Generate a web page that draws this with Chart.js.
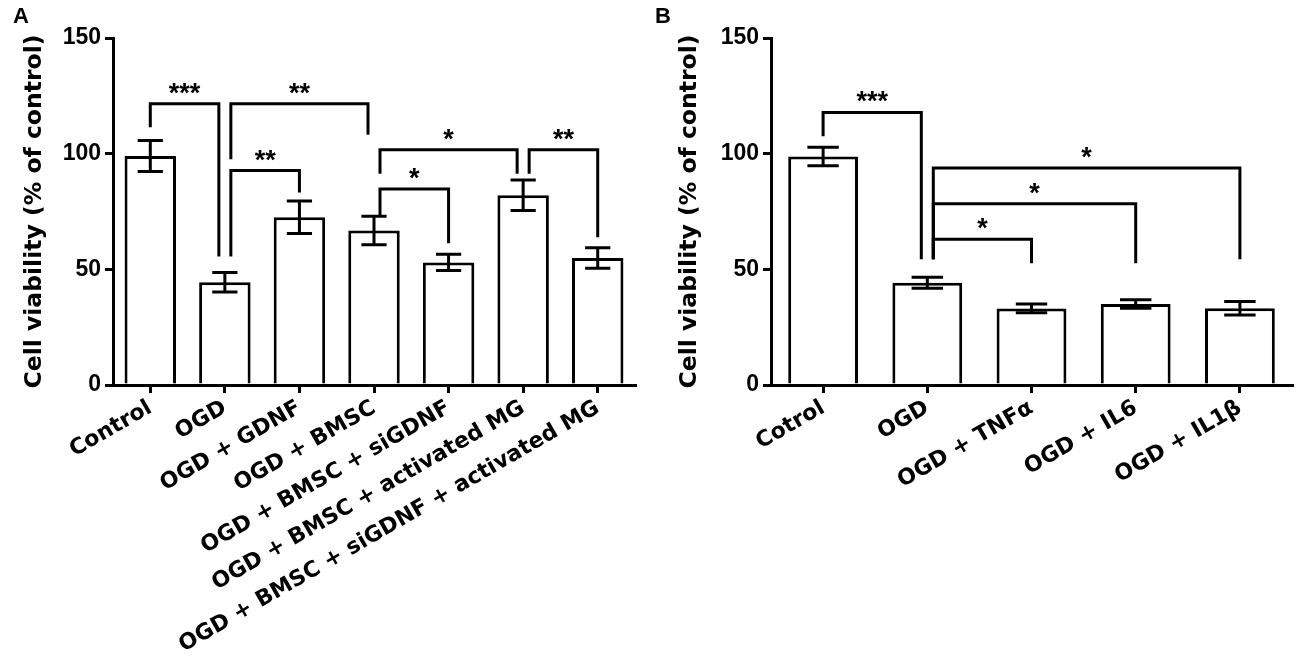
<!DOCTYPE html>
<html><head><meta charset="utf-8">
<script src="https://cdn.jsdelivr.net/npm/chart.js@4.4.1/dist/chart.umd.min.js"></script>
<style>
html,body{margin:0;padding:0;background:#fff;}
#wrap{position:relative;width:1300px;height:667px;overflow:hidden;background:#fff;}
canvas{position:absolute;top:0;}
#cA{left:0}
#cB{left:650px}
.lbl{position:absolute;font:bold 22px "Liberation Sans",Arial,sans-serif;color:#000;line-height:1;}
</style></head><body>
<div id="wrap">
<canvas id="cA" width="650" height="667"></canvas>
<canvas id="cB" width="650" height="667"></canvas>
<div class="lbl" style="left:13px;top:5px">A</div>
<div class="lbl" style="left:655px;top:5px">B</div>
</div>
<script>
// ---- Panel A data ----
const categoriesA = ['Control', 'OGD', 'OGD + GDNF', 'OGD + BMSC', 'OGD + BMSC + siGDNF',
  'OGD + BMSC + activated MG', 'OGD + BMSC + siGDNF + activated MG'];
const meansA = [99, 44.4, 72.5, 66.8, 53, 82, 54.9];
const errorsA = [6.7, 4.2, 7, 6.2, 3.5, 6.6, 4.4];
// [from, to, bracket top, left leg end, right leg end, label]
const bracketsA = [
  [0, 1, 121.6, 111.4, 55.5, '***'],
  [1, 3, 121.6, 97.6, 108.2, '**'],
  [1, 2, 92.7, 55.5, 83.2, '**'],
  [3, 5, 101.7, 91.3, 91.3, '*'],
  [3, 4, 84.7, 72.8, 61.3, '*'],
  [5, 6, 101.7, 91.3, 63.9, '**']
];
// ---- Panel B data ----
const categoriesB = ['Cotrol', 'OGD', 'OGD + TNF\u03b1', 'OGD + IL6', 'OGD + IL1\u03b2'];
const meansB = [98.8, 44.2, 33.1, 35, 33.2];
const errorsB = [4, 2.4, 1.9, 1.8, 2.9];
const bracketsB = [
  [0, 1, 117.8, 107.5, 54.4, '***'],
  [1, 2, 63.0, 54.4, 52.6, '*'],
  [1, 3, 78.3, 54.4, 52.6, '*'],
  [1, 4, 93.8, 54.4, 54.4, '*']
];
const yTicks = [0, 50, 100, 150];
const yTitle = 'Cell viability (% of control)';

const overlay = {
  id: 'overlay',
  afterDatasetsDraw(chart, args, opts) {
    const ctx = chart.ctx, x = chart.scales.x, y = chart.scales.y;
    const meta = chart.getDatasetMeta(0);
    ctx.save();
    ctx.strokeStyle = '#000'; ctx.fillStyle = '#000';
    ctx.lineWidth = 3; ctx.lineCap = 'butt'; ctx.lineJoin = 'miter';
    opts.means.forEach((m, i) => {
      const cx = x.getPixelForValue(i);
      const hw = meta.data[i].width * opts.capRatio / 2;
      const yt = y.getPixelForValue(m + opts.errs[i]);
      const yb = y.getPixelForValue(m - opts.errs[i]);
      ctx.beginPath();
      ctx.moveTo(cx, yt); ctx.lineTo(cx, yb);
      ctx.moveTo(cx - hw, yt); ctx.lineTo(cx + hw, yt);
      ctx.moveTo(cx - hw, yb); ctx.lineTo(cx + hw, yb);
      ctx.stroke();
    });
    ctx.font = 'bold 27px "Liberation Sans", Arial, sans-serif';
    ctx.textAlign = 'center'; ctx.textBaseline = 'alphabetic';
    const br = opts.brackets;
    br.forEach(b => {
      const [l, r, top, lb, rb, label] = b;
      const sL = br.some(o => o !== b && o[1] === l) ? opts.legShift : 0;
      const sR = br.some(o => o !== b && o[0] === r) ? -opts.legShift : 0;
      const xl = x.getPixelForValue(l) + sL, xr = x.getPixelForValue(r) + sR;
      const yt = y.getPixelForValue(top);
      ctx.beginPath();
      ctx.moveTo(xl, y.getPixelForValue(lb));
      ctx.lineTo(xl, yt); ctx.lineTo(xr, yt);
      ctx.lineTo(xr, y.getPixelForValue(rb));
      ctx.stroke();
      ctx.fillText(label, (xl + xr) / 2, yt - 2);
    });
    ctx.restore();
  }
};

function makeChart(id, labels, means, errs, brackets, cfg) {
  return new Chart(document.getElementById(id), {
    type: 'bar',
    data: { labels: labels, datasets: [{ data: means, backgroundColor: '#fff', borderColor: '#000',
      borderWidth: 3, categoryPercentage: 1, barPercentage: cfg.barPct }] },
    options: {
      responsive: false, animation: false, devicePixelRatio: 1,
      layout: { padding: { top: 38, right: cfg.padRight, bottom: 0, left: 0 } },
      plugins: { legend: { display: false }, tooltip: { enabled: false },
        overlay: { means: means, errs: errs, brackets: brackets, capRatio: cfg.capRatio, legShift: 6 } },
      scales: {
        x: {
          grid: { display: true, offset: false, drawOnChartArea: false, drawTicks: true, tickLength: 8, color: '#000', lineWidth: 3 },
          border: { display: true, color: '#000', width: 3 },
          ticks: { color: '#000', font: { family: 'DejaVu Sans', weight: 'bold', size: 22 },
            minRotation: 30, maxRotation: 30, autoSkip: false, padding: 2 },
          afterFit(s) { s.height = 282; }
        },
        y: {
          min: 0, max: 150,
          afterBuildTicks(s) { s.ticks = yTicks.map(v => ({ value: v })); },
          ticks: { color: '#000', font: { family: 'Liberation Sans', weight: 'bold', size: 23 }, padding: 4 },
          grid: { display: true, drawOnChartArea: false, drawTicks: true, tickLength: 8, color: '#000', lineWidth: 3 },
          border: { display: true, color: '#000', width: 3 },
          title: { display: true, text: yTitle, color: '#000',
            font: { family: 'DejaVu Sans', weight: 'bold', size: 23.5 }, padding: { top: cfg.titlePad, bottom: 0 } },
          afterFit(s) { s.width = cfg.yWidth; }
        }
      }
    },
    plugins: [overlay]
  });
}

makeChart('cA', categoriesA, meansA, errorsA, bracketsA, { barPct: 0.69, capRatio: 0.49, padRight: 15, yWidth: 113, titlePad: 21 });
makeChart('cB', categoriesB, meansB, errorsB, bracketsB, { barPct: 0.67, capRatio: 0.45, padRight: 8, yWidth: 121, titlePad: 26 });
</script>
</body></html>
